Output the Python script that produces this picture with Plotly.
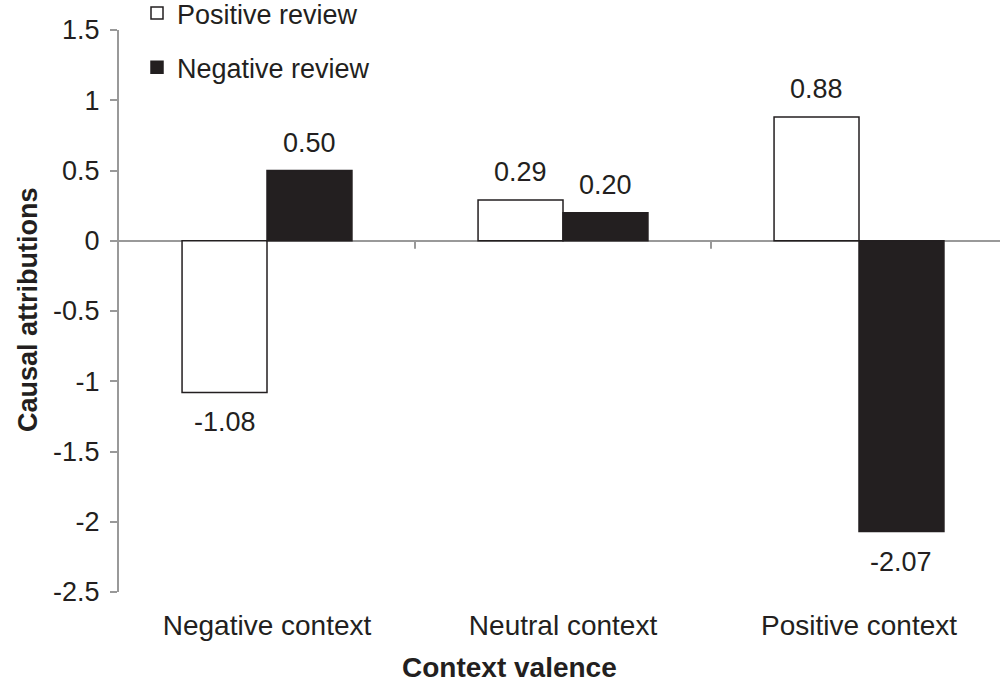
import plotly.graph_objects as go

# Causal attributions by context valence and review valence
categories = ["Negative context", "Neutral context", "Positive context"]
positive_review = [-1.08, 0.29, 0.88]
negative_review = [0.50, 0.20, -2.07]
series_names = ["Positive review", "Negative review"]
x_title = "Context valence"
y_title = "Causal attributions"

y_tick_vals = [1.5, 1, 0.5, 0, -0.5, -1, -1.5, -2, -2.5]
y_tick_text = ["1.5", "1", "0.5", "0", "-0.5", "-1", "-1.5", "-2", "-2.5"]

INK = "#231f20"
GRAY = "#999999"
FONT = "Liberation Sans, Arial, sans-serif"

W, H = 1000, 683
M = dict(l=119, r=0, t=30, b=91, autoexpand=False)
plot_w = W - M["l"] - M["r"]
plot_h = H - M["t"] - M["b"]
cat_px = 296                      # pixel width of one category slot
x_range = [-0.5, -0.5 + plot_w / cat_px]
bargap = 0.426
bar_px = cat_px * (1 - bargap) / 2

fig = go.Figure()
fig.add_trace(go.Bar(
    name=series_names[0], x=categories, y=positive_review,
    marker=dict(color="white", line=dict(color=INK, width=1.5)),
    legendgroup="pos",
))
fig.add_trace(go.Bar(
    name=series_names[1], x=categories, y=negative_review,
    marker=dict(color=INK, line=dict(color=INK, width=1.5)),
    legendgroup="neg",
))

# value labels, offset from the bar ends
for values, side in ((positive_review, -1), (negative_review, 1)):
    for cat, v in zip(categories, values):
        fig.add_annotation(
            x=cat, y=v, xref="x", yref="y",
            xshift=side * bar_px / 2,
            yshift=11 if v >= 0 else -13,
            yanchor="bottom" if v >= 0 else "top",
            text=f"{v:.2f}", showarrow=False,
            font=dict(size=27, color=INK, family=FONT),
        )

# axis titles
fig.add_annotation(
    xref="paper", yref="paper", x=(509 - M["l"]) / plot_w, y=-75 / plot_h,
    xanchor="center", yanchor="middle", showarrow=False,
    text=f"<b>{x_title}</b>", font=dict(size=28, color=INK, family=FONT),
)
fig.add_annotation(
    xref="paper", yref="paper", x=(28 - M["l"]) / plot_w, y=(592 - 310) / plot_h,
    xanchor="center", yanchor="middle", showarrow=False, textangle=-90,
    text=f"<b>{y_title}</b>", font=dict(size=27, color=INK, family=FONT),
)

# short divider ticks hanging below the zero line between categories
for k in range(len(categories) - 1):
    fig.add_shape(
        type="line", xref="x", yref="y",
        x0=k + 0.5, x1=k + 0.5,
        ysizemode="pixel", yanchor=0, y0=0, y1=-8,
        line=dict(color=GRAY, width=2),
    )

fig.update_layout(
    width=W, height=H, margin=M,
    plot_bgcolor="white", paper_bgcolor="white",
    barmode="group", bargap=bargap, bargroupgap=0,
    font=dict(family=FONT, color=INK, size=27),
    showlegend=True,
    legend=dict(
        xref="paper", yref="paper",
        x=(137 - M["l"]) / plot_w, y=(plot_h + M["t"] + 11) / plot_h,
        xanchor="left", yanchor="top",
        font=dict(size=27, color=INK, family=FONT),
        traceorder="grouped", tracegroupgap=16,
        bgcolor="rgba(0,0,0,0)",
    ),
    xaxis=dict(
        range=x_range, showline=False, showgrid=False, zeroline=False,
        automargin=False, tickangle=0,
        ticks="outside", ticklen=8, tickcolor="rgba(0,0,0,0)",
        tickfont=dict(size=28, color=INK, family=FONT),
    ),
    yaxis=dict(
        range=[-2.5, 1.5], tickmode="array",
        tickvals=y_tick_vals, ticktext=y_tick_text,
        automargin=False,
        showline=True, linecolor=GRAY, linewidth=2,
        ticks="outside", ticklen=7, tickwidth=2, tickcolor=GRAY,
        ticklabelstandoff=5,
        showgrid=False, zeroline=True, zerolinecolor=GRAY, zerolinewidth=2,
        tickfont=dict(size=27, color=INK, family=FONT),
    ),
)

fig.write_html("out.html")
